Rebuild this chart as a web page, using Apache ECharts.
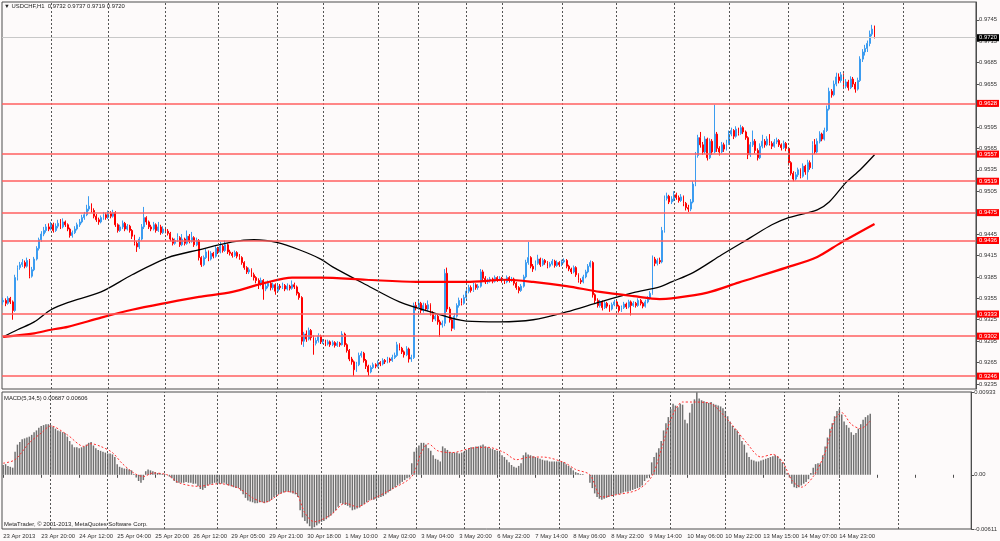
<!DOCTYPE html>
<html>
<head>
<meta charset="utf-8">
<title>USDCHF,H1</title>
<style>
  html, body { margin: 0; padding: 0; background: #fdfafa; }
  #chart { width: 1000px; height: 541px; }
</style>
<script src="https://cdn.jsdelivr.net/npm/echarts@6.0.0/dist/echarts.min.js"></script>
</head>
<body>
<div id="chart"></div>
<script>
// prices are kept in pips above 0.9000 (352 -> 0.9352); open of a bar = close of the bar before
var PIP = 0.0001, BASE = 0.9;
var firstOpen = 350;

var closePips = [
  352,348,355,350,338,384,398,402,405,400, 408,386,395,410,425,437,445,450,455,452,
  458,450,456,460,455,462,458,452,443,447, 452,458,462,468,472,480,484,478,470,465,
  462,468,472,468,474,470,475,458,450,455, 460,452,456,450,442,432,427,438,455,468,
  462,455,452,458,450,455,447,452,449,446, 438,432,436,440,430,438,432,442,435,440,
  430,436,412,402,412,420,410,418,414,425, 420,428,422,430,420,418,415,419,414,412,
  405,398,392,395,388,384,380,375,380,368, 372,376,370,374,365,372,370,373,368,372,
  369,374,371,362,356,295,305,298,310,300, 292,296,302,294,295,291,294,290,293,289,
  292,290,305,290,282,270,266,255,262,275, 278,268,260,252,258,262,260,265,263,268,
  266,270,268,272,275,290,285,280,276,284, 270,272,345,342,348,338,345,340,346,335,
  326,330,322,318,320,390,340,325,313,330, 345,352,348,356,365,370,366,374,370,372,
  392,383,378,380,382,379,384,381,383,380, 378,384,380,382,376,370,366,372,385,405,
  412,400,396,404,410,402,408,405,400,403, 407,401,405,402,406,408,400,396,392,398,
  388,380,378,385,392,400,405,360,352,345, 350,342,348,344,340,346,350,344,338,342,
  347,343,350,345,348,345,352,348,344,350, 355,362,410,404,408,406,450,495,498,490,
  494,500,496,492,497,488,482,480,490,515, 555,580,570,560,578,552,575,560,585,565,
  560,570,564,572,585,590,582,592,586,594, 588,580,556,570,575,562,552,568,575,570,
  578,572,568,574,576,570,566,572,565,545, 530,522,528,535,526,540,532,545,538,570,
  560,575,585,578,590,620,645,640,655,665, 660,668,652,658,650,662,655,648,660,690,
  700,705,712,725,732,720
];
var highPips = [
  356,355,358,357,352,388,401,406,410,408, 412,410,399,413,428,440,449,455,459,460,
  462,461,460,465,466,467,464,460,454,450, 456,461,466,472,476,486,498,488,481,473,
  468,471,476,475,478,477,479,477,460,458, 464,462,459,458,452,444,435,441,459,483,
  470,464,458,462,460,462,458,456,455,452, 448,440,439,446,442,445,440,450,445,448,
  442,440,438,414,415,424,422,421,420,428, 427,434,430,436,432,423,420,422,421,417,
  414,407,400,398,397,391,386,383,384,382, 376,380,378,377,376,375,375,377,375,376,
  374,380,377,373,364,358,308,310,314,312, 303,300,306,304,298,297,297,296,296,295,
  295,294,309,307,292,284,273,268,266,279, 281,280,270,262,261,265,264,268,267,271,
  270,273,272,276,279,294,292,287,282,288, 286,276,349,350,352,350,349,348,352,348,
  337,334,332,325,324,396,398,343,328,334, 348,356,355,360,369,374,373,377,376,375,
  396,395,386,383,385,384,387,386,386,385, 382,387,386,385,384,378,372,375,388,409,
  434,414,403,408,416,412,411,410,407,406, 410,409,408,407,409,411,410,402,398,401,
  400,390,383,388,395,403,408,407,362,355, 353,352,351,350,346,349,353,352,346,345,
  350,349,353,352,351,350,355,354,350,353, 358,365,415,413,411,412,455,499,503,500,
  498,505,503,499,501,499,490,486,494,519, 560,584,588,574,582,580,579,578,626,588,
  568,574,573,577,590,594,592,596,594,598, 596,590,582,574,590,578,565,572,584,578,
  582,585,575,578,580,578,572,576,574,567, 547,533,532,538,537,544,542,549,548,575,
  578,579,589,587,594,625,650,648,660,671, 670,672,670,662,661,666,665,658,664,694,
  704,710,716,730,738,737
];
var lowPips = [
  346,344,346,347,325,336,380,395,399,397, 398,383,384,393,408,422,434,442,447,449,
  450,447,448,453,452,453,455,449,440,440, 445,450,455,460,465,470,477,475,467,462,
  458,460,465,465,466,467,468,455,447,448, 452,449,450,447,438,429,420,424,436,452,
  458,452,449,450,447,448,444,445,446,443, 435,429,430,434,427,428,429,430,432,433,
  427,428,408,399,400,410,407,408,411,412, 417,418,419,420,417,415,412,413,411,409,
  402,395,389,389,385,380,376,368,372,353, 365,369,366,367,360,363,367,368,365,366,
  366,367,368,359,353,290,287,294,296,296, 276,289,293,291,291,288,289,287,288,286,
  287,287,289,287,279,267,262,246,252,260, 272,265,256,246,250,256,257,258,260,261,
  263,264,265,266,270,273,282,277,272,274, 265,266,270,338,339,334,335,337,337,331,
  322,323,318,301,314,316,336,321,309,311, 328,342,345,346,354,362,363,364,367,367,
  370,380,375,375,377,376,377,378,379,377, 375,376,377,378,373,367,362,364,370,383,
  402,397,392,394,402,399,400,402,397,398, 401,398,399,399,400,404,397,393,389,390,
  385,377,375,376,383,390,398,356,348,342, 342,338,340,341,336,338,344,341,335,336,
  340,340,341,331,343,342,343,345,341,342, 348,353,360,400,401,403,404,447,492,487,
  487,491,493,489,490,484,478,476,477,488, 512,552,566,556,557,548,550,556,558,560,
  555,558,560,562,570,582,578,580,583,584, 585,577,550,553,567,558,548,550,565,566,
  568,569,564,566,571,567,562,564,561,541, 527,519,520,525,523,524,528,521,535,536,
  557,558,572,575,576,588,618,636,638,652, 656,657,648,649,646,648,651,643,646,658,
  686,695,700,708,722,719
];

// moving averages: [bar, pips]
var blackMA = [[0,301],[6,311],[13,322],[20,339],[27,349],[41,364],[54,388],[69,412],[82,423],
  [96,434],[105,437],[115,433],[124,423],[133,410],[138,399],[152,374],[166,350],[180,335],
  [194,323],[208,322],[222,325],[236,336],[250,350],[264,363],[275,371],[280,378],[289,391],
  [301,416],[313,440],[322,458],[329,468],[341,479],[346,490],[353,517],[359,535],[365,556]];
var redMA = [[0,301],[13,306],[20,311],[27,315],[41,328],[54,339],[69,349],[82,357],[96,364],
  [110,377],[121,384],[133,384],[152,381],[173,378],[194,378],[211,381],[222,378],[236,372],
  [250,364],[264,358],[275,354],[280,355],[295,363],[308,377],[328,398],[341,413],[351,433],[365,459]];

// MACD(5,34,5) in units of 0.0001
var macdHist = [
  11,12,10,9,8,26,34,37,40,41, 42,43,45,48,50,53,55,56,57,57,
  56,54,52,50,49,48,47,43,38,34, 31,31,30,31,32,34,36,37,33,30,
  28,27,26,25,24,24,23,20,12,9, 8,7,7,6,5,1,-3,-7,-9,-6,
  4,6,5,4,3,2,2,1,1,0, -2,-4,-7,-9,-9,-9,-9,-8,-9,-9,
  -10,-10,-13,-16,-17,-15,-12,-11,-10,-9, -9,-10,-10,-9,-11,-12,-13,-14,-15,-15,
  -18,-22,-26,-29,-30,-31,-32,-32,-31,-31, -32,-31,-30,-28,-25,-23,-22,-21,-20,-19,
  -19,-20,-21,-22,-25,-40,-48,-52,-55,-58, -61,-59,-57,-55,-53,-52,-50,-48,-46,-43,
  -40,-36,-32,-33,-34,-35,-37,-40,-39,-38, -37,-35,-33,-31,-29,-28,-28,-27,-26,-25,
  -24,-22,-20,-18,-16,-14,-12,-10,-8,-6, -4,-3,13,26,30,33,36,36,34,30,
  27,22,18,17,15,32,30,28,26,25, 25,25,24,25,26,28,30,31,31,32,
  32,33,34,32,31,30,29,28,27,25, 22,20,17,14,11,9,8,10,13,22,
  25,23,22,21,20,19,18,17,16,16, 15,15,15,15,15,15,14,12,10,8,
  5,3,2,1,1,0,0,-9,-15,-21, -25,-27,-28,-27,-26,-25,-24,-23,-22,-22,
  -21,-20,-19,-19,-18,-17,-16,-15,-14,-12, -7,-4,-1,14,20,25,30,38,50,58,
  65,74,80,78,76,80,79,62,58,70, 80,85,93,86,84,83,82,81,82,80,
  79,78,77,75,72,66,60,55,52,50, 45,38,34,25,20,17,16,15,15,16,
  17,18,19,20,21,22,21,18,14,9, 2,-3,-10,-14,-15,-14,-12,-10,-8,-5,
  2,8,12,13,13,22,32,42,52,58, 66,72,74,68,60,56,53,48,45,47,
  52,57,62,65,67,68.7
];
var macdSignal = [[0,13],[5,17],[11,36],[16,47],[20,55],[27,45],[34,32],[37,35],[41,32],[46,25],
  [50,13],[55,2],[59,-2],[63,2],[69,0],[74,-9],[82,-13],[91,-10],[99,-15],[105,-26],[110,-31],
  [119,-19],[123,-20],[127,-43],[131,-53],[138,-45],[144,-32],[149,-36],[155,-28],[163,-17],
  [172,-2],[176,25],[179,35],[183,27],[189,25],[197,30],[204,31],[211,25],[216,17],[222,20],
  [227,20],[236,14],[241,6],[247,0],[252,-25],[257,-23],[267,-17],[273,-2],[277,28],[281,62],
  [286,82],[290,82],[297,81],[305,62],[313,36],[319,20],[324,23],[328,15],[332,-6],[336,-14],
  [341,-2],[346,25],[350,62],[353,70],[357,57],[361,52],[365,60.6]];

var priceTicks = [0.9235,0.9265,0.9295,0.9325,0.9355,0.9385,0.9415,0.9445,0.9475,0.9505,
  0.9535,0.9565,0.9595,0.9625,0.9655,0.9685,0.9715,0.9745];
var macdTicks = [-0.00611, 0, 0.00933];
var levelLines = [0.9628,0.9557,0.9519,0.9475,0.9436,0.9333,0.9302,0.9246];
var lastPrice = 0.9720;
var dayLines = [20,44,68,90,115,134,157,174,194,209,234,257,281,304,329,352,377];
var timeLabels = ['23 Apr 2013','23 Apr 20:00','24 Apr 12:00','25 Apr 04:00','25 Apr 20:00',
  '26 Apr 12:00','29 Apr 05:00','29 Apr 21:00','30 Apr 18:00','1 May 10:00','2 May 02:00',
  '3 May 04:00','3 May 20:00','6 May 22:00','7 May 14:00','8 May 06:00','8 May 22:00',
  '9 May 14:00','10 May 06:00','10 May 22:00','13 May 15:00','14 May 07:00','14 May 23:00'];
var slots = 408;

function px(p) { return +(BASE + p * PIP).toFixed(5); }

var categories = [];
for (var i = 0; i < slots; i++) categories.push(String(i));

var candles = closePips.map(function (c, i) {
  var o = i === 0 ? firstOpen : closePips[i - 1];
  return [px(o), px(c), px(lowPips[i]), px(highPips[i])];
});
var last = candles[candles.length - 1];

var FONT = 'Liberation Sans';
var FS = 5.9;
var txt = { fontSize: FS, color: '#333', fontFamily: FONT };

function dayMarks() {
  return dayLines.map(function (d) {
    return { xAxis: d, lineStyle: { color: '#555', type: [2, 2], width: 1 }, label: { show: false } };
  });
}
var levelMarks = levelLines.map(function (v) {
  return {
    yAxis: v,
    lineStyle: { color: '#ff5f5f', width: 1.5, type: 'solid' },
    label: { show: true, position: 'end', distance: 1, formatter: v.toFixed(4),
      backgroundColor: '#ff0000', color: '#fff', padding: [1, 2, 0, 2],
      fontSize: FS, fontFamily: FONT }
  };
});
levelMarks.push({
  yAxis: lastPrice,
  lineStyle: { color: '#c8c8c8', width: 1, type: 'solid' },
  label: { show: true, position: 'end', distance: 1, formatter: lastPrice.toFixed(4),
    backgroundColor: '#000', color: '#fff', padding: [1, 2, 0, 2], fontSize: FS, fontFamily: FONT }
});

var chart = echarts.init(document.getElementById('chart'));
chart.setOption({
  animation: false,
  backgroundColor: '#fdfafa',
  grid: [
    { left: 2, right: 23, top: 2, height: 387, show: true, borderColor: '#4d4d4d', borderWidth: 1 },
    { left: 2, right: 23, top: 392, height: 137, show: true, borderColor: '#4d4d4d', borderWidth: 1 }
  ],
  graphic: [
    { type: 'text', left: 4, top: 3, style: { text: '▼ USDCHF,H1  ' + last[0].toFixed(4) + ' ' +
      last[3].toFixed(4) + ' ' + last[2].toFixed(4) + ' ' + last[1].toFixed(4),
      font: FS + 'px "' + FONT + '"', fill: '#222' } },
    { type: 'text', left: 4, top: 395, style: { text: 'MACD(5,34,5) ' +
      (macdHist[macdHist.length - 1] * PIP).toFixed(5) + ' ' +
      (macdSignal[macdSignal.length - 1][1] * PIP).toFixed(5),
      font: FS + 'px "' + FONT + '"', fill: '#222' } },
    { type: 'text', left: 4, top: 521, style: { text: 'MetaTrader, © 2001-2013, MetaQuotes Software Corp.',
      font: FS + 'px "' + FONT + '"', fill: '#222' } }
  ],
  xAxis: [
    { type: 'category', gridIndex: 0, data: categories, boundaryGap: true,
      axisLine: { show: false }, axisTick: { show: false }, axisLabel: { show: false },
      splitLine: { show: false } },
    { type: 'category', gridIndex: 1, data: categories, boundaryGap: true,
      axisLine: { show: false },
      axisTick: { show: true, interval: 15, alignWithLabel: true, length: 3, lineStyle: { color: '#4d4d4d' } },
      axisLabel: Object.assign({ interval: 15, align: 'left', margin: 4,
        formatter: function (v, idx) { return timeLabels[idx / 16] || ''; } }, txt),
      splitLine: { show: false } }
  ],
  yAxis: [
    { type: 'value', gridIndex: 0, position: 'right', min: 0.9228, max: 0.9770,
      splitLine: { show: false },
      axisLine: { show: true, lineStyle: { color: '#4d4d4d' } },
      axisTick: { show: true, customValues: priceTicks, length: 3, lineStyle: { color: '#4d4d4d' } },
      axisLabel: Object.assign({ customValues: priceTicks, margin: 3,
        formatter: function (v) { return v.toFixed(4); } }, txt) },
    { type: 'value', gridIndex: 1, position: 'right', min: -0.00611, max: 0.00933,
      splitLine: { show: false },
      axisLine: { show: true, lineStyle: { color: '#4d4d4d' } },
      axisTick: { show: true, customValues: macdTicks, length: 3, lineStyle: { color: '#4d4d4d' } },
      axisLabel: Object.assign({ customValues: macdTicks, margin: 3,
        formatter: function (v) { return v === 0 ? '0.00' : v.toFixed(5); } }, txt) }
  ],
  series: [
    { type: 'candlestick', xAxisIndex: 0, yAxisIndex: 0, data: candles, barWidth: 1.4,
      itemStyle: { color: '#3c9cf0', color0: '#ff0000', borderColor: '#3c9cf0', borderColor0: '#ff0000', borderWidth: 1 },
      markLine: { silent: true, animation: false, precision: 5, symbol: ['none', 'none'],
        data: dayMarks().concat(levelMarks) } },
    { type: 'line', xAxisIndex: 0, yAxisIndex: 0, symbol: 'none', smooth: 0.3,
      data: blackMA.map(function (p) { return [p[0], px(p[1])]; }),
      lineStyle: { color: '#000', width: 1.3 }, z: 3 },
    { type: 'line', xAxisIndex: 0, yAxisIndex: 0, symbol: 'none', smooth: 0.3,
      data: redMA.map(function (p) { return [p[0], px(p[1])]; }),
      lineStyle: { color: '#ff0000', width: 2.2 }, z: 3 },
    { type: 'bar', xAxisIndex: 1, yAxisIndex: 1, barWidth: 1.5,
      data: macdHist.map(function (v) { return +(v * PIP).toFixed(6); }),
      itemStyle: { color: '#707070' },
      markLine: { silent: true, animation: false, precision: 5, symbol: ['none', 'none'], data: dayMarks() } },
    { type: 'line', xAxisIndex: 1, yAxisIndex: 1, symbol: 'none', smooth: 0.3,
      data: macdSignal.map(function (p) { return [p[0], +(p[1] * PIP).toFixed(6)]; }),
      lineStyle: { color: '#ff3030', width: 1, type: [2, 2] }, z: 4 }
  ]
});
</script>
</body>
</html>
